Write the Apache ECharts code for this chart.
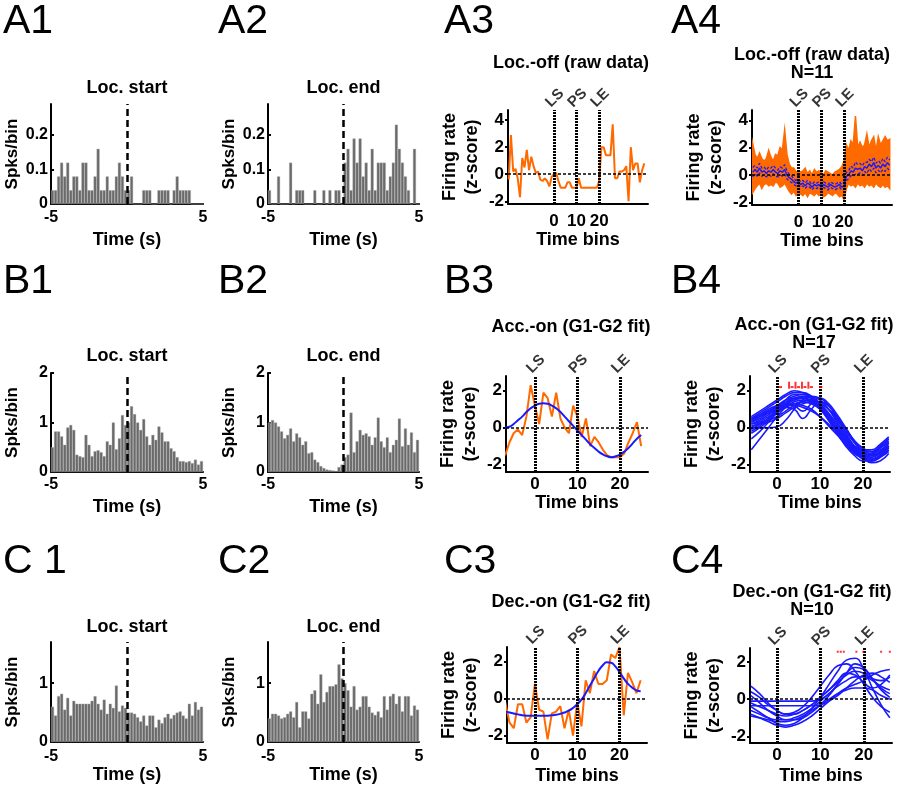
<!DOCTYPE html>
<html><head><meta charset="utf-8">
<script src="https://cdn.jsdelivr.net/npm/echarts@6/dist/echarts.min.js"></script>
<style>html,body{margin:0;padding:0;background:#fff}#c{width:900px;height:790px}</style>
</head><body><div id="c"></div>
<script>
// ---------------- DATA ----------------
const HIST_X_TICKS = [-5, 5];
const TIME_X_TICKS = [0, 10, 20];
const EVENT_X = [0, 10, 20];
const EVENT_LABELS = ['LS', 'PS', 'LE'];

// Peri-event histograms, 50 bins of 0.2 s from -5 to 5 s
const A1_counts = [0.04,0.04,0.08,0.12,0.08,0.12,0.04,0.08,0.08,0.04, 0.12,0.12,0.04,0.04,0.08,0.16,0.04,0.04,0.08,0.04, 0.04,0.08,0.12,0.08,0.04,0.04,0.08,0,0,0, 0.04,0.04,0.04,0,0,0.04,0.04,0.04,0.04,0, 0.04,0.08,0.04,0.04,0.04,0.04,0,0,0,0];
const A2_counts = [0.04,0,0,0.08,0,0,0,0.12,0,0.04, 0.04,0.04,0,0,0,0.04,0,0,0.04,0, 0.04,0,0.04,0.04,0, 0.12,0.16,0.04,0.19,0.12, 0.19,0.08,0.12,0.04,0.16, 0.04,0.12,0.12,0.12,0.04, 0.08,0.12,0.23,0.16,0.12, 0.08,0.04,0,0.16,0];
const B1_counts = [0.5,0.82,0.82,0.72,0.55,0.9,0.95,0.85,0.35,0.32, 0.3,0.75,0.55,0.32,0.42,0.44,0.4,0.32,0.62,0.55, 1.0,0.46,0.68,1.15,0.95, 1.0,1.33,1.17,1.0,0.85, 1.07,0.72,0.55,0.75,0.65, 0.92,0.8,0.62,0.62,0.48, 0.42,0.3,0.22,0.22,0.2, 0.22,0.18,0.25,0.15,0.22];
const B2_counts = [1.0,1.05,1.0,0.92,0.82, 0.68,0.75,0.88,0.62,0.78, 0.7,0.55,0.62,0.38,0.4, 0.25,0.2,0.12,0.08,0.05, 0.04,0.03,0.02,0.1,0.15, 0.3,0.35,1.2,0.4,0.62, 0.85,0.75,0.78,0.72,0.55, 0.7,1.1,0.62,0.5,0.7, 0.4,0.55,0.65,1.08,0.52, 0.88,0.55,0.8,0.4,0.65];
const C1_counts = [0.6,0.45,0.78,0.82,0.55, 0.75,0.45,0.7,0.65,0.65, 0.65,0.65,0.65,0.7,0.78, 0.65,0.55,0.72,0.48,0.65, 0.58,0.96,0.52,0.62,0.58, 0.5,0.5,0.48,0.42,0.35, 0.45,0.28,0.45,0.45,0.25, 0.38,0.32,0.42,0.48,0.4, 0.46,0.5,0.52,0.45,0.4, 0.65,0.45,0.68,0.55,0.6];
const C2_counts = [0.4,0.48,0.48,0.45,0.4, 0.42,0.48,0.52,0.42,0.68, 0.25,0.52,0.52,0.4,0.82, 0.88,0.65,1.15,0.68,0.85, 0.95,0.95,0.98,1.32,1.08, 1.0,0.88,0.6,0.95,0.55, 0.6,0.78,0.78,0.6,0.5, 0.46,0.52,0.42,0.78,0.55, 0.78,0.82,0.65,0.78,0.52, 0.78,0.78,0.45,0.62,0.55];

// A3/A4: time bins -20..40
const A_BIN_START = -20;
const A3_raw = [-0.4,2.9,0.2,0.4,-0.3,-1.7,1.2,0.5,1.8,0.3, 1.3,0.6,0.1,0.2,-0.4,-0.5,-0.3,-0.5,-0.9,-0.2, 0.0,0.1,-0.5,-1.0,-1.0,-1.0,-0.6,-0.6,-1.0,-1.0, -1.0,-0.3,-1.0,-1.0,-1.0,-1.0,-1.0,-1.0,-1.0,-1.0, -0.5,2.0,2.0,1.4,1.4,1.4,3.7,-0.3,-0.3,0.2, 0.2,0.3,0.6,-2.0,2.0,0.3,0.8,0.8,-0.6,0.3, 0.8];
const A4_upper = [2.3,1.5,1.2,1.6,1.2,1.0,1.2,1.8,1.3,1.0, 1.5,1.4,2.0,1.8,3.3,1.5,0.8,0.5,0.5,0.2, 0.3,0.2,0.3,0.5,0.1,0.3,0.0,0.4,0.2,0.3, 0.2,0.0,0.3,0.2,0.1,0.0,0.2,0.3,0.4,0.6, 1.0,2.2,1.8,2.5,2.2,4.3,2.0,2.4,2.0,2.2, 3.0,2.0,2.5,2.8,1.8,2.8,2.2,2.5,2.8,2.5, 2.6];
const A4_lower = [-1.3,-1.0,-0.8,-0.6,-1.0,-0.7,-0.6,-0.8,-0.7,-0.8, -0.5,-0.6,-0.9,-0.8,-0.6,-0.9,-1.2,-1.4,-1.2,-1.5, -1.3,-1.4,-1.5,-1.3,-1.6,-1.3,-1.4,-1.5,-1.3,-1.5, -1.4,-1.6,-1.5,-1.3,-1.4,-1.5,-1.3,-1.4,-1.6,-1.5, -1.8,-1.0,-0.6,-0.8,-0.7,-0.9,-0.6,-0.8,-0.7,-0.9, -0.6,-0.8,-0.7,-0.9,-0.6,-0.8,-0.9,-0.7,-0.9,-0.8, -1.0];
const A4_mean = [0.2,0.4,0.2,0.5,0.2,0.3,0.1,0.3,0.2,0.4, 0.2,0.1,0.3,0.2,0.4,0.0,-0.2,-0.3,-0.5,-0.6, -0.5,-0.7,-0.6,-0.8,-0.6,-0.7,-0.9,-0.7,-0.8,-0.7, -0.9,-0.7,-0.8,-0.9,-0.7,-0.8,-0.9,-0.8,-0.7,-0.9, -0.8,-0.1,0.0,0.3,0.2,0.5,0.4,0.5,0.3,0.6, 0.5,0.8,0.6,0.9,0.5,0.7,0.5,0.8,0.6,0.9, 0.7];
const A4_sem = [0.35,0.3,0.3,0.35,0.3,0.3,0.25,0.3,0.3,0.3, 0.3,0.25,0.3,0.3,0.35,0.3,0.25,0.25,0.2,0.2, 0.2,0.2,0.2,0.2,0.2,0.2,0.2,0.2,0.2,0.2, 0.2,0.2,0.2,0.2,0.2,0.2,0.2,0.2,0.2,0.2, 0.25,0.3,0.3,0.35,0.3,0.45,0.35,0.35,0.35,0.35, 0.4,0.35,0.35,0.4,0.35,0.35,0.35,0.4,0.35,0.4, 0.4];

// B3/C3: time bins -7..25
const BC_BIN_START = -7;
const B3_raw = [-1.5,-0.8,-0.3,-0.1,-0.4,0.6,2.3,1.2,0.2,1.9, 1.6,0.6,1.9,0.5,0.0,-0.3,1.2,0.6,-0.5,0.5, -1.0,-0.5,-0.8,-1.2,-1.5,-1.6,-1.6,-1.6,-1.4,-0.8, -0.3,0.3,-1.0];
const B3_fit = [0.0,0.05,0.2,0.4,0.6,0.85,1.05,1.2,1.3,1.33, 1.3,1.2,1.05,0.85,0.6,0.35,0.1,-0.15,-0.4,-0.65, -0.9,-1.1,-1.3,-1.45,-1.55,-1.6,-1.55,-1.45,-1.3,-1.1, -0.85,-0.6,-0.4];
const C3_raw = [-0.2,-1.3,-1.6,-0.3,-0.3,-1.3,-1.0,0.8,-0.6,-0.7, -2.2,-0.8,-0.7,-0.4,-1.6,-0.6,-2.0,-0.2,-1.5,1.0, 0.3,1.5,0.8,0.8,1.0,2.4,2.2,2.8,-0.9,1.4, 0.9,0.3,1.0];
const C3_fit = [-0.7,-0.75,-0.8,-0.85,-0.9,-0.92,-0.93,-0.93,-0.93,-0.93, -0.92,-0.9,-0.87,-0.82,-0.75,-0.65,-0.5,-0.3,-0.05,0.3, 0.7,1.1,1.5,1.8,1.97,1.95,1.75,1.45,1.1,0.8, 0.6,0.45,0.4];

// B4/C4: population fits sampled every 2 bins
const FIT_X = [-6,-4,-2,0,2,4,6,8,10,12,14,16,18,20,22,24,26];
const B4_fits = [
 [0.5,0.8,1.1,1.4,1.7,1.9,1.9,1.7,1.3,0.6,-0.2,-0.9,-1.4,-1.6,-1.5,-1.1,-0.7],
 [0.3,0.6,0.9,1.2,1.5,1.7,1.8,1.7,1.5,1.0,0.3,-0.4,-1.0,-1.4,-1.5,-1.3,-1.0],
 [-1.2,-0.6,0.0,0.6,1.1,1.4,1.5,1.4,1.1,0.6,0.0,-0.6,-1.1,-1.5,-1.7,-1.5,-1.2],
 [0.0,0.0,0.0,0.05,0.4,1.0,1.5,1.7,1.6,1.2,0.5,-0.3,-1.0,-1.5,-1.6,-1.3,-0.8],
 [0.6,0.9,1.2,1.5,1.8,2.0,1.9,1.6,1.1,0.4,-0.3,-0.9,-1.3,-1.5,-1.4,-1.0,-0.6],
 [0.2,0.4,0.7,1.0,1.2,1.3,1.2,1.0,0.6,0.1,-0.4,-0.9,-1.3,-1.6,-1.7,-1.5,-1.1],
 [0.4,0.7,1.0,1.2,1.3,1.2,0.9,1.3,1.6,1.3,0.7,0.0,-0.7,-1.2,-1.4,-1.2,-0.9],
 [-0.3,0.0,0.4,0.8,1.1,1.3,1.4,1.3,1.0,0.5,-0.1,-0.7,-1.2,-1.6,-1.9,-1.8,-1.4],
 [0.5,0.7,0.9,1.1,1.2,1.2,1.1,0.9,0.6,0.2,-0.3,-0.7,-1.0,-1.2,-1.2,-0.9,-0.5],
 [-0.1,0.2,0.5,0.9,1.3,1.6,1.7,1.6,1.3,0.8,0.2,-0.5,-1.1,-1.6,-1.8,-1.6,-1.2],
 [0.2,0.3,0.4,0.6,0.9,1.2,1.4,1.5,1.4,1.0,0.4,-0.2,-0.8,-1.3,-1.5,-1.4,-1.0],
 [0.0,0.3,0.6,0.9,1.1,1.0,0.5,1.0,1.4,1.2,0.6,-0.1,-0.8,-1.3,-1.5,-1.3,-1.0],
 [0.4,0.6,0.8,1.0,1.3,1.5,1.6,1.5,1.2,0.7,0.1,-0.5,-1.0,-1.3,-1.3,-1.0,-0.6],
 [-0.6,-0.2,0.3,0.8,1.2,1.5,1.6,1.4,1.0,0.4,-0.3,-1.0,-1.5,-1.8,-1.8,-1.5,-1.0],
 [0.1,0.2,0.3,0.5,0.8,1.1,1.3,1.4,1.3,1.0,0.5,-0.1,-0.7,-1.1,-1.3,-1.1,-0.8],
 [0.3,0.5,0.8,1.1,1.4,1.6,1.6,1.4,1.0,0.5,-0.1,-0.7,-1.2,-1.5,-1.6,-1.4,-1.1],
 [-0.2,0.1,0.5,1.0,1.5,1.8,1.8,1.6,1.2,0.6,-0.1,-0.8,-1.3,-1.7,-1.8,-1.6,-1.3]
];
const C4_fits = [
 [0.7,0.3,-0.2,-0.6,-0.8,-0.7,-0.4,0.1,0.7,1.3,1.8,1.9,1.5,0.8,0.1,-0.4,-0.7],
 [-0.4,-0.7,-1.0,-1.3,-1.4,-1.3,-1.0,-0.5,0.1,0.8,1.5,2.1,2.2,1.6,0.6,-0.3,-1.0],
 [-0.1,-0.1,-0.1,-0.1,-0.1,-0.1,-0.1,-0.1,0.0,0.3,0.8,1.4,1.9,1.7,1.1,0.5,0.1],
 [-0.35,-0.35,-0.35,-0.35,-0.35,-0.35,-0.35,-0.35,-0.3,-0.1,0.2,0.6,1.0,1.3,1.4,1.2,0.9],
 [0.2,-0.2,-0.6,-0.9,-1.1,-1.1,-1.0,-0.7,-0.3,0.2,0.8,1.4,1.7,1.6,1.1,0.6,0.3],
 [-0.8,-1.0,-1.2,-1.4,-1.5,-1.4,-1.2,-0.9,-0.5,-0.1,0.3,0.6,0.8,1.0,1.3,1.5,1.6],
 [-0.6,-0.8,-1.0,-1.1,-1.1,-1.0,-0.8,-0.5,-0.1,0.3,0.7,1.0,1.2,1.2,1.0,0.7,0.5],
 [0.4,0.1,-0.3,-0.6,-0.8,-0.8,-0.6,-0.3,0.1,0.5,0.9,1.3,1.5,1.4,1.1,1.0,1.2],
 [-0.9,-1.0,-1.1,-1.2,-1.2,-1.1,-0.9,-0.6,-0.3,0.0,0.3,0.5,0.6,0.6,0.5,0.2,0.0],
 [-0.2,-0.4,-0.6,-0.8,-0.9,-0.8,-0.6,-0.3,0.1,0.5,1.0,1.4,1.3,0.9,0.6,0.8,1.3]
];
// significance markers
const B4_sig_tall = [2.8, 4.3, 5.8, 7.3];
const B4_sig_small = [0.8, 3.5, 5.0, 6.5, 8.0, 10.2];
const B4_sig_y = 2.2;
const C4_sig = [14.0, 14.7, 15.4, 18.3, 19.9, 24.0, 26.0];
const C4_sig_y = 2.55;

// ---------------- BUILD ----------------
const FONT = '"Liberation Sans", Arial, Helvetica, sans-serif';
const BOLD = {fontFamily: FONT, fontWeight: 'bold', fontSize: 15, color: '#000'};
const NAME = Object.assign({}, BOLD, {fontSize: 18});
const ORANGE = '#ff6a00', BLUE = '#1a1aff', GRAY = '#6a6a6a';
const grids = [], xAxes = [], yAxes = [], series = [], graphics = [];

function txt(x, y, text, font, extra) {
  graphics.push({type: 'text', silent: true, style: Object.assign({
    x: x, y: y, text: text, font: font, fill: '#000', textAlign: 'center', textVerticalAlign: 'middle'
  }, extra || {})});
}

function histPanel(p) {
  grids.push({left: p.left, top: p.top, width: p.width, height: p.height});
  const gi = grids.length - 1;
  const cx = xAxes.length;
  xAxes.push({type: 'category', gridIndex: gi, data: p.counts.map((_, i) => i), show: false, boundaryGap: true, position: 'bottom'});
  const vx = xAxes.length;
  xAxes.push({type: 'value', gridIndex: gi, min: -5, max: 5, position: 'bottom',
    axisLine: {show: true, onZero: false, lineStyle: {color: '#000', width: 2}},
    axisTick: {show: false}, splitLine: {show: false},
    axisLabel: Object.assign({}, BOLD, {fontSize: 16, margin: p.xMargin, customValues: HIST_X_TICKS}),
    name: 'Time (s)', nameLocation: 'middle', nameGap: p.nameGap, nameTextStyle: NAME});
  const yi = yAxes.length;
  yAxes.push({type: 'value', gridIndex: gi, min: 0, max: p.yMax,
    axisLine: {show: true, onZero: false, lineStyle: {color: '#000', width: 2}},
    axisTick: {show: true, inside: true, length: 3, customValues: p.yTicks, lineStyle: {color: '#000', width: 2}},
    axisLabel: Object.assign({}, BOLD, {fontSize: 16, margin: 3, customValues: p.yTicks}),
    splitLine: {show: false},
    name: 'Spks/bin', nameLocation: 'middle', nameGap: 30, nameRotate: 90,
    nameTextStyle: Object.assign({}, BOLD, {fontSize: 17})});
  series.push({type: 'bar', xAxisIndex: cx, yAxisIndex: yi, data: p.counts, barCategoryGap: '0%',
    itemStyle: {color: GRAY, borderColor: '#b4b4b4', borderWidth: 0.4}, silent: true});
  series.push({type: 'line', xAxisIndex: vx, yAxisIndex: yi, data: [], silent: true,
    markLine: {silent: true, symbol: ['none', 'none'], label: {show: false}, animation: false,
      lineStyle: {color: '#000', width: 2.5, type: [7, 4]}, data: [{xAxis: 0}]}});
  txt(p.left + p.width / 2, p.titleY, p.title, 'bold 18px ' + FONT);
}

function timePanel(p) {
  grids.push({left: p.left, top: p.top, width: p.width, height: p.height});
  const gi = grids.length - 1;
  const xi = xAxes.length;
  xAxes.push({type: 'value', gridIndex: gi, min: p.xMin, max: p.xMax, position: 'bottom',
    axisLine: {show: true, onZero: false, lineStyle: {color: '#000', width: 2}},
    axisTick: {show: false}, splitLine: {show: false},
    axisLabel: Object.assign({}, BOLD, {fontSize: 17, margin: p.xMargin, customValues: TIME_X_TICKS}),
    name: 'Time bins', nameLocation: 'middle', nameGap: p.nameGap, nameTextStyle: NAME});
  const yi = yAxes.length;
  yAxes.push({type: 'value', gridIndex: gi, min: p.yMin, max: p.yMax,
    axisLine: {show: true, onZero: false, lineStyle: {color: '#000', width: 2}},
    axisTick: {show: true, inside: false, length: 3, customValues: p.yTicks, lineStyle: {color: '#000', width: 2}},
    axisLabel: Object.assign({}, BOLD, {fontSize: 17, margin: 4, customValues: p.yTicks}),
    splitLine: {show: false},
    name: 'Firing rate\n(z-score)', nameLocation: 'middle', nameGap: 25, nameRotate: 90,
    nameTextStyle: Object.assign({}, NAME, {lineHeight: 22})});
  const evLines = EVENT_X.map(x => ({xAxis: x, lineStyle: {color: '#000', width: 3, type: [2, 1]}}));
  evLines.push({yAxis: 0, lineStyle: {color: '#000', width: 1.5, type: [3, 2]}});
  series.push({type: 'line', xAxisIndex: xi, yAxisIndex: yi, data: [], silent: true, z: 1,
    markLine: {silent: true, symbol: ['none', 'none'], label: {show: false}, animation: false, data: evLines}});
  series.push({type: 'scatter', xAxisIndex: xi, yAxisIndex: yi, silent: true, clip: false,
    symbolSize: 0.1, itemStyle: {color: 'rgba(0,0,0,0)'},
    data: EVENT_X.map(x => [x, p.yMax]),
    label: Object.assign({show: true, formatter: q => EVENT_LABELS[q.dataIndex], position: [1, -12],
      align: 'center', verticalAlign: 'middle', rotate: 45}, BOLD, {fontSize: 15})});
  txt(p.left + p.width / 2 + p.titleDx, p.titleY, p.title, 'bold 18px ' + FONT, {lineHeight: 18});
  return {xi: xi, yi: yi};
}

function pts(start, arr) { return arr.map((v, i) => [start + i, v]); }
function lineS(ax, data, color, width, extra) {
  return Object.assign({type: 'line', xAxisIndex: ax.xi, yAxisIndex: ax.yi, data: data, symbol: 'none',
    silent: true, lineStyle: {color: color, width: width}, z: 3}, extra || {});
}

// Row A
histPanel({left: 51, top: 104, width: 152, height: 100, counts: A1_counts, yMax: 0.29, yTicks: [0, 0.1, 0.2], title: 'Loc. start', titleY: 88, xMargin: 6, nameGap: 27});
histPanel({left: 268, top: 104, width: 151, height: 100, counts: A2_counts, yMax: 0.29, yTicks: [0, 0.1, 0.2], title: 'Loc. end', titleY: 88, xMargin: 6, nameGap: 27});
const a3 = timePanel({left: 508, top: 110, width: 140, height: 94, xMin: -20.3, xMax: 41.6, yMin: -2.2, yMax: 4.75, yTicks: [-2, 0, 2, 4], title: 'Loc.-off (raw data)', titleY: 63, titleDx: -7, xMargin: 9, nameGap: 24});
series.push(lineS(a3, pts(A_BIN_START, A3_raw), ORANGE, 2));
const a4 = timePanel({left: 752, top: 110, width: 140, height: 95, xMin: -20.3, xMax: 41, yMin: -2.2, yMax: 4.75, yTicks: [-2, 0, 2, 4], title: 'Loc.-off (raw data)\nN=11', titleY: 64, titleDx: -10, xMargin: 9, nameGap: 24});
// envelope of the 11 raw traces, drawn as a polygon through the axis scales
series.push({type: 'custom', xAxisIndex: a4.xi, yAxisIndex: a4.yi, silent: true, z: 2, data: [0],
  renderItem: function (params, api) {
    const up = A4_upper.map((v, i) => api.coord([A_BIN_START + i, v]));
    const lo = A4_lower.map((v, i) => api.coord([A_BIN_START + i, v])).reverse();
    return {type: 'polygon', shape: {points: up.concat(lo)}, style: {fill: ORANGE, stroke: ORANGE, lineWidth: 1.5}};
  }});
series.push(lineS(a4, pts(A_BIN_START, A4_mean), BLUE, 1.5, {z: 4}));
series.push(lineS(a4, pts(A_BIN_START, A4_mean.map((m, i) => m + A4_sem[i])), BLUE, 1.3, {z: 4, lineStyle: {color: BLUE, width: 1.3, type: [3, 2]}}));
series.push(lineS(a4, pts(A_BIN_START, A4_mean.map((m, i) => m - A4_sem[i])), BLUE, 1.3, {z: 4, lineStyle: {color: BLUE, width: 1.3, type: [3, 2]}}));

// Row B
histPanel({left: 51, top: 373, width: 152, height: 99, counts: B1_counts, yMax: 2, yTicks: [0, 1, 2], title: 'Loc. start', titleY: 356, xMargin: 5, nameGap: 26});
histPanel({left: 268, top: 373, width: 151, height: 99, counts: B2_counts, yMax: 2, yTicks: [0, 1, 2], title: 'Loc. end', titleY: 356, xMargin: 5, nameGap: 26});
const b3 = timePanel({left: 506, top: 376, width: 142, height: 96, xMin: -6.8, xMax: 26.6, yMin: -2.4, yMax: 2.8, yTicks: [-2, 0, 2], title: 'Acc.-on (G1-G2 fit)', titleY: 327, titleDx: -6, xMargin: 4, nameGap: 21});
series.push(lineS(b3, pts(BC_BIN_START, B3_raw), ORANGE, 2));
series.push(lineS(b3, pts(BC_BIN_START, B3_fit), BLUE, 2, {smooth: true, z: 4}));
const b4 = timePanel({left: 750, top: 376, width: 140, height: 96, xMin: -6.3, xMax: 26.3, yMin: -2.4, yMax: 2.8, yTicks: [-2, 0, 2], title: 'Acc.-on (G1-G2 fit)\nN=17', titleY: 334, titleDx: -6, xMargin: 4, nameGap: 21});
B4_fits.forEach(f => series.push(lineS(b4, FIT_X.map((x, i) => [x, f[i]]), BLUE, 1.6, {smooth: 0.5})));
series.push({type: 'scatter', xAxisIndex: b4.xi, yAxisIndex: b4.yi, silent: true, z: 5, symbol: 'rect', symbolSize: [2, 7],
  itemStyle: {color: '#ff0000'}, data: B4_sig_tall.map(x => [x, B4_sig_y + 0.1])});
series.push({type: 'scatter', xAxisIndex: b4.xi, yAxisIndex: b4.yi, silent: true, z: 5, symbol: 'rect', symbolSize: [3, 2],
  itemStyle: {color: '#ff0000'}, data: B4_sig_small.map(x => [x, B4_sig_y])});

// Row C
histPanel({left: 51, top: 642, width: 152, height: 100, counts: C1_counts, yMax: 1.7, yTicks: [0, 1], title: 'Loc. start', titleY: 627, xMargin: 7, nameGap: 24});
histPanel({left: 268, top: 642, width: 151, height: 100, counts: C2_counts, yMax: 1.7, yTicks: [0, 1], title: 'Loc. end', titleY: 627, xMargin: 7, nameGap: 24});
const c3 = timePanel({left: 507, top: 647, width: 140, height: 96, xMin: -6.6, xMax: 26.5, yMin: -2.4, yMax: 2.8, yTicks: [-2, 0, 2], title: 'Dec.-on (G1-G2 fit)', titleY: 602, titleDx: -6, xMargin: 4, nameGap: 24});
series.push(lineS(c3, pts(BC_BIN_START, C3_raw), ORANGE, 2));
series.push(lineS(c3, pts(BC_BIN_START, C3_fit), BLUE, 2, {smooth: true, z: 4}));
const c4 = timePanel({left: 750, top: 648, width: 142, height: 95, xMin: -6.2, xMax: 26.5, yMin: -2.35, yMax: 2.75, yTicks: [-2, 0, 2], title: 'Dec.-on (G1-G2 fit)\nN=10', titleY: 601, titleDx: -9, xMargin: 4, nameGap: 24});
C4_fits.forEach(f => series.push(lineS(c4, FIT_X.map((x, i) => [x, f[i]]), BLUE, 1.6, {smooth: 0.5})));
series.push({type: 'scatter', xAxisIndex: c4.xi, yAxisIndex: c4.yi, silent: true, z: 5, symbol: 'rect', symbolSize: [2, 2],
  itemStyle: {color: '#ff0000'}, data: C4_sig.map(x => [x, C4_sig_y])});

// Panel letters
const LETTER_FONT = '41px ' + FONT;
[['A1', 3, 22], ['A2', 218, 22], ['A3', 444, 22], ['A4', 671, 22],
 ['B1', 3, 282], ['B2', 218, 282], ['B3', 444, 282], ['B4', 671, 282],
 ['C 1', 3, 562], ['C2', 218, 562], ['C3', 444, 562], ['C4', 671, 562]].forEach(l =>
  txt(l[1], l[2], l[0], LETTER_FONT, {textAlign: 'left'}));

const chart = echarts.init(document.getElementById('c'), null, {renderer: 'canvas'});
chart.setOption({animation: false, backgroundColor: '#fff', grid: grids, xAxis: xAxes, yAxis: yAxes, series: series, graphic: graphics});
</script></body></html>
